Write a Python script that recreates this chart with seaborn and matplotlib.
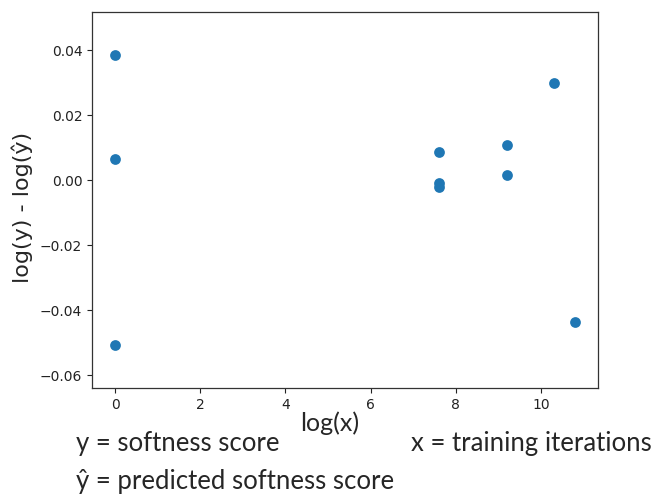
import matplotlib
matplotlib.use("Agg")
import matplotlib.pyplot as plt
import seaborn as sns
import pandas as pd

log_x = [0.0, 0.0, 0.0, 7.6, 7.6, 7.6, 9.2, 9.2, 10.3, 10.8]
residual = [0.0387, 0.0066, -0.0506, 0.0088, -0.0009, -0.0022, 0.0108, 0.0016, 0.0301, -0.0437]
x_ticks = [0, 2, 4, 6, 8, 10]
y_ticks = [-0.06, -0.04, -0.02, 0.00, 0.02, 0.04]

df = pd.DataFrame({"log_x": log_x, "residual": residual})

sns.set_style("ticks")
plt.rcParams['font.family'] = ['DejaVu Sans']
plt.rcParams['font.sans-serif'] = ['DejaVu Sans']

fig = plt.figure(figsize=(6.7, 4.95), dpi=100)
ax = fig.add_axes([92/670, 1 - 388/495, 506/670, 376/495])
sns.scatterplot(data=df, x="log_x", y="residual", ax=ax, color="#1f77b4",
                s=60, linewidth=0)
ax.set_xlim(-0.54, 11.34)
ax.set_ylim(-0.0639, 0.0518)
ax.set_xticks(x_ticks)
ax.set_xticklabels([str(t) for t in x_ticks], family='DejaVu Sans')
ax.set_yticks(y_ticks)
ax.set_yticklabels(["\u22120.06", "\u22120.04", "\u22120.02", "0.00", "0.02", "0.04"],
                   family='DejaVu Sans')
ax.tick_params(labelsize=10, length=3.5, width=0.8, colors="#222222")
for sp in ax.spines.values():
    sp.set_visible(True)
    sp.set_color("#333333")
    sp.set_linewidth(0.9)
ax.set_xlabel("")
ax.set_ylabel("log(y) - log(\u0177)", fontsize=16, family='DejaVu Sans')
ax.yaxis.set_label_coords(-0.117, 0.479)

cal = ['Lato', 'DejaVu Sans']
fig.text(330/670, 1 - 423/495, "log(x)", fontsize=18, family=cal, ha="center", va="center")
fig.text(76/670, 1 - 443/495, "y = softness score", fontsize=18.5, family=cal, ha="left", va="center")
fig.text(411/670, 1 - 443/495, "x = training iterations", fontsize=18.5, family=cal, ha="left", va="center")
fig.text(76/670, 1 - 482/495, "\u0177 = predicted softness score", fontsize=18.5, family=cal, ha="left", va="center")

fig.savefig("out.png", dpi=100)
